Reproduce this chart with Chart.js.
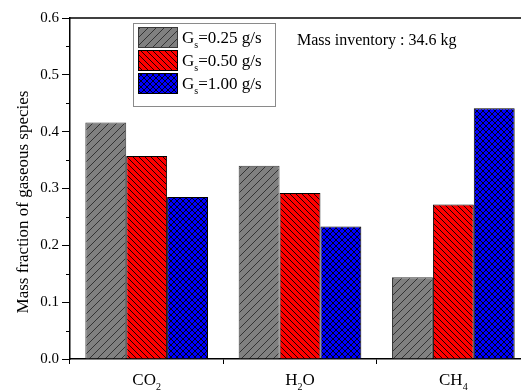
<!DOCTYPE html>
<html>
<head>
<meta charset="utf-8">
<script src="https://cdn.jsdelivr.net/npm/chart.js@4"></script>
<style>
  html, body { margin: 0; padding: 0; background: #fff; overflow: hidden; }
  #wrap { position: relative; width: 535px; height: 392px; }
</style>
</head>
<body>
<div id="wrap"><canvas id="chart"></canvas></div>
<script>
// --- data ---
const categories = ['CO₂', 'H₂O', 'CH₄'];
const gs025 = [0.416, 0.340, 0.144];
const gs050 = [0.357, 0.292, 0.272];
const gs100 = [0.285, 0.233, 0.441];
const seriesRates = ['0.25', '0.50', '1.00'];
const yTicks = [0, 0.1, 0.2, 0.3, 0.4, 0.5, 0.6];
const yTitle = 'Mass fraction of gaseous species';
const noteText = 'Mass inventory : 34.6 kg';

const SERIF = '"Liberation Serif", "Times New Roman", serif';

// hatch fills like the origin plot
function hatch(bg, kind, size, lineCol) {
  const c = document.createElement('canvas');
  c.width = c.height = size;
  const g = c.getContext('2d');
  g.fillStyle = bg;
  g.fillRect(0, 0, size, size);
  g.strokeStyle = lineCol;
  g.lineWidth = 0.9;
  g.beginPath();
  if (kind === '/' || kind === 'x') {
    g.moveTo(-1, size + 1); g.lineTo(size + 1, -1);
    g.moveTo(-1, 1); g.lineTo(1, -1);
    g.moveTo(size - 1, size + 1); g.lineTo(size + 1, size - 1);
  }
  if (kind === '\\' || kind === 'x') {
    g.moveTo(-1, -1); g.lineTo(size + 1, size + 1);
    g.moveTo(size - 1, -1); g.lineTo(size + 1, 1);
    g.moveTo(-1, size - 1); g.lineTo(1, size + 1);
  }
  g.stroke();
  return g.createPattern(c, 'repeat');
}

const ctx = document.getElementById('chart').getContext('2d');
const fills = [
  hatch('#808080', '/', 8, '#2a2a2a'),
  hatch('#ff0000', '\\', 6, '#000'),
  hatch('#0000ff', 'x', 6, '#000')
];
const borders = ['#3a3a3a', '#000000', '#000000'];

// draw text with digits / "s" as subscript
function drawSubText(g, parts, x, y, size, align) {
  const sub = Math.round(size * 0.6);
  let w = 0;
  parts.forEach(p => {
    g.font = (p[1] ? sub : size) + 'px ' + SERIF;
    w += g.measureText(p[0]).width;
  });
  let cx = align === 'center' ? x - w / 2 : x;
  g.textAlign = 'left';
  g.textBaseline = 'alphabetic';
  parts.forEach(p => {
    g.font = (p[1] ? sub : size) + 'px ' + SERIF;
    g.fillText(p[0], cx, p[1] ? y + size * 0.3 : y);
    cx += g.measureText(p[0]).width;
  });
}

function splitSub(label) {
  const map = { '₂': '2', '₄': '4' };
  const parts = [];
  for (const ch of label) {
    const isSub = ch in map;
    const t = isSub ? map[ch] : ch;
    const last = parts[parts.length - 1];
    if (last && last[1] === isSub) last[0] += t;
    else parts.push([t, isSub]);
  }
  return parts;
}

const decorations = {
  id: 'decorations',
  afterDraw(chart) {
    const g = chart.ctx;
    const area = chart.chartArea;
    const x = chart.scales.x, y = chart.scales.y;
    g.save();

    // top frame line
    g.strokeStyle = '#000';
    g.lineWidth = 1.5;
    g.beginPath();
    g.moveTo(area.left, area.top);
    g.lineTo(area.right, area.top);
    g.stroke();

    // minor y ticks
    g.lineWidth = 1;
    for (let i = 0; i < yTicks.length - 1; i++) {
      const py = Math.round(y.getPixelForValue((yTicks[i] + yTicks[i + 1]) / 2)) + 0.5;
      g.beginPath();
      g.moveTo(area.left - 4, py);
      g.lineTo(area.left, py);
      g.stroke();
    }

    // category labels with subscripts
    g.fillStyle = '#000';
    categories.forEach((c, i) => {
      drawSubText(g, splitSub(c), x.getPixelForValue(i), area.bottom + 26, 17, 'center');
    });

    // y title
    g.save();
    g.translate(28, 202);
    g.rotate(-Math.PI / 2);
    g.font = '17px ' + SERIF;
    g.textAlign = 'center';
    g.textBaseline = 'alphabetic';
    g.fillText(yTitle, 0, 0);
    g.restore();

    // legend box
    g.fillStyle = '#fff';
    g.fillRect(133.5, 23.5, 142, 83);
    g.strokeStyle = '#8a8a8a';
    g.lineWidth = 1;
    g.strokeRect(133.5, 23.5, 142, 83);
    seriesRates.forEach((r, i) => {
      const top = 27 + i * 23;
      g.fillStyle = fills[i];
      g.fillRect(138, top, 39, 20);
      g.strokeStyle = borders[i];
      g.strokeRect(138.5, top + 0.5, 39, 20);
      g.fillStyle = '#000';
      drawSubText(g, [['G', false], ['s', true], ['=' + r + ' g/s', false]], 182, top + 16, 17, 'left');
    });

    // note
    g.font = '16px ' + SERIF;
    g.textAlign = 'left';
    g.fillText(noteText, 297, 45);
    g.restore();
  }
};

new Chart(ctx, {
  type: 'bar',
  data: {
    labels: categories,
    datasets: [gs025, gs050, gs100].map((d, i) => ({
      label: 'Gs=' + seriesRates[i] + ' g/s',
      data: d,
      backgroundColor: fills[i],
      borderColor: borders[i],
      borderWidth: 1,
      categoryPercentage: 0.8,
      barPercentage: 1.0
    }))
  },
  options: {
    responsive: true,
    maintainAspectRatio: false,
    animation: false,
    layout: { padding: { top: 18, right: 5, left: 0, bottom: 0 } },
    plugins: { legend: { display: false }, tooltip: { enabled: false } },
    scales: {
      x: {
        grid: { drawOnChartArea: false, offset: true, tickLength: 5, color: '#000', lineWidth: 1 },
        border: { color: '#000', width: 1.5 },
        ticks: { display: false },
        afterFit(s) { s.height = 33; }
      },
      y: {
        min: 0, max: 0.6,
        afterBuildTicks(s) { s.ticks = yTicks.map(v => ({ value: v })); },
        grid: { drawOnChartArea: false, tickLength: 8, color: '#000', lineWidth: 1 },
        border: { color: '#000', width: 1.5 },
        ticks: {
          padding: 3,
          color: '#000',
          font: { family: SERIF, size: 15 },
          callback: v => Number(v).toFixed(1)
        },
        afterFit(s) { s.width = 70; }
      }
    }
  },
  plugins: [decorations]
});
</script>
</body>
</html>
